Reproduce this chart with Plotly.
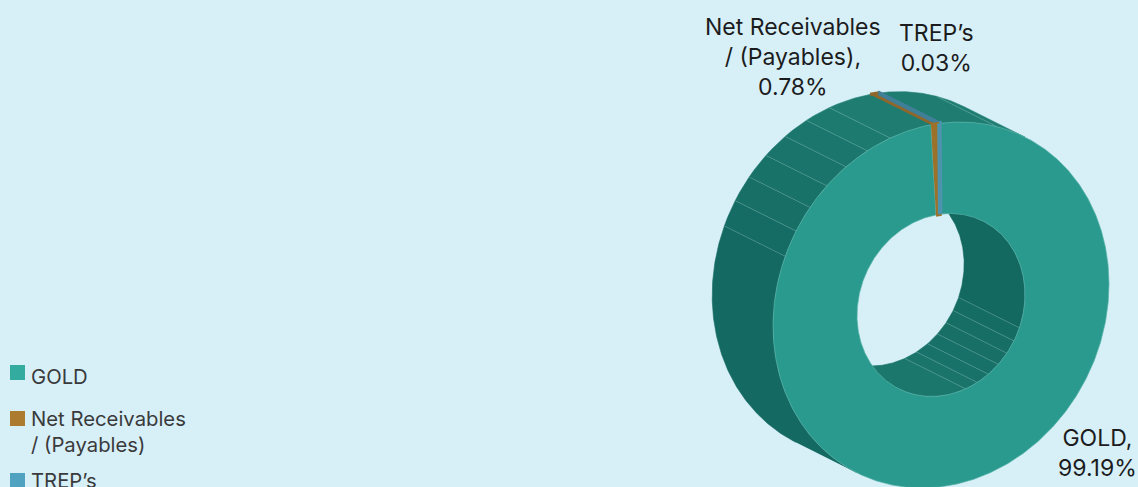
import numpy as np
import plotly.graph_objects as go

categories = ["GOLD", "Net Receivables / (Payables)", "TREP’s"]
values = [99.19, 0.78, 0.03]

# style
BG = "#d7f0f7"
legend_colors = ["#33ab9e", "#ad7b30", "#4fa3c0"]
face_colors = ["#2a9a8f", "#9c722b", "#4d93ad"]
wall_special = [None, "#8f672c", "#3f7f98"]
slice_stroke = [0, 3.5, 4.5]
FONT = "Inter"

# projection of the 3D ring onto the page
CX, CY = 941.0, 305.0
A, B = 187.7, 162.7          # outer semi-axes
HOLE = 0.5
M = np.array([1.0, -2.0]) / np.sqrt(5)
N = np.array([2.0, 1.0]) / np.sqrt(5)
DEPTH = 68.0
START = -30.5                # page angle of the first slice


def ring(s_deg, scale=1.0, back=False):
    s = np.radians(np.asarray(s_deg, dtype=float))
    pts = np.outer(A * scale * np.cos(s), M) + np.outer(B * scale * np.sin(s), N)
    pts = pts + np.array([CX, CY])
    if back:
        pts = pts - DEPTH * N
    return pts


def arc(s0, s1, step=0.5):
    n = max(2, int(abs(s1 - s0) / step) + 1)
    return np.linspace(s0, s1, n)


def mix(c0, c1, f):
    f = min(max(f, 0.0), 1.0)
    a = [int(c0[i:i + 2], 16) for i in (1, 3, 5)]
    b = [int(c1[i:i + 2], 16) for i in (1, 3, 5)]
    return "#%02x%02x%02x" % tuple(round(x + (y - x) * f) for x, y in zip(a, b))


fig = go.Figure()


def poly(pts, color, lw=0.0, lc=None):
    fig.add_trace(go.Scatter(
        x=pts[:, 0], y=pts[:, 1], mode="lines", fill="toself", fillcolor=color,
        line=dict(color=lc or color, width=lw), hoverinfo="skip", showlegend=False))


def band(s0, s1, scale, color, lw=0.6):
    ss = arc(s0, s1)
    pts = np.vstack([ring(ss, scale), ring(ss[::-1], scale, back=True)])
    poly(pts, color, lw=lw)


def seam(s, scale):
    pts = np.vstack([ring([s], scale), ring([s], scale, back=True)])
    fig.add_trace(go.Scatter(
        x=pts[:, 0], y=pts[:, 1], mode="lines",
        line=dict(color="rgba(190,235,230,0.28)", width=0.7),
        hoverinfo="skip", showlegend=False))


# slice limits in page angle
cum = np.cumsum([0] + values)
limits = [(START + 360 * cum[i] / cum[-1], START + 360 * cum[i + 1] / cum[-1]) for i in range(len(values))]

# ---------- inner wall, seen through the hole
inner_seams = [81 + 8.67 * k for k in range(7)]
edges = [0] + inner_seams + [180]
for i in range(len(edges) - 1):
    col = mix("#136860", "#1c776d", (edges[i] - 60) / 80)
    band(edges[i], edges[i + 1], HOLE, col)
for s in inner_seams:
    seam(s, HOLE)

# ---------- outer wall, upper left
outer_seams = [262 + 8.4 * k for k in range(7)] + [349.5]
edges = [180] + outer_seams + [360]
for i in range(len(edges) - 1):
    col = mix("#146a62", "#1f7d72", (edges[i] - 255) / 60)
    band(edges[i], edges[i + 1], 1.0, col)
for s in outer_seams:
    seam(s, 1.0)
for i in (1, 2):
    ss = arc(limits[i][0] + 360, limits[i][1] + 360, 0.02)
    pts = np.vstack([ring(ss), ring(ss[::-1], back=True)])
    poly(pts, wall_special[i], lw=slice_stroke[i])

# ---------- front faces
for i in range(3):
    s0, s1 = limits[i]
    step = 0.5 if i == 0 else 0.02
    ss = arc(s0, s1, step)
    pts = np.vstack([ring(ss), ring(ss[::-1], HOLE)])
    if i == 0:
        poly(pts, face_colors[i], lw=0.7, lc="#56b2a8")
    else:
        poly(pts, face_colors[i], lw=slice_stroke[i])

# ---------- legend
legend_y = [372.5, 418.5, 480.5]
legend_text = ["GOLD", "Net Receivables<br>/ (Payables)", "TREP’s"]
text_top = [363, 405, 467]
fig.add_trace(go.Scatter(
    x=[17.5] * 3, y=legend_y, mode="markers",
    marker=dict(symbol="square", size=15, color=legend_colors, line=dict(width=0)),
    hoverinfo="skip", showlegend=False))

annotations = []
for t, y in zip(legend_text, text_top):
    annotations.append(dict(x=30, y=y, xref="x", yref="y", xanchor="left", yanchor="top",
                            text=t, showarrow=False, align="left", borderpad=0,
                            font=dict(family=FONT, size=20.3, color="#3a3a3c")))

# ---------- data labels
label_text = ["GOLD,<br>%.2f%%" % values[0],
              "Net Receivables<br>/ (Payables),<br>%.2f%%" % values[1],
              "TREP’s<br>%.2f%%" % values[2]]
label_x = [1097, 793, 936]
label_top = [423, 12, 18]
for t, x, y in zip(label_text, label_x, label_top):
    annotations.append(dict(x=x, y=y, xref="x", yref="y", xanchor="center", yanchor="top",
                            text=t, showarrow=False, align="center", borderpad=0,
                            font=dict(family=FONT, size=23, color="#1c1c1e")))

fig.update_layout(
    width=1138, height=487, margin=dict(l=0, r=0, t=0, b=0),
    paper_bgcolor=BG, plot_bgcolor=BG, showlegend=False,
    xaxis=dict(range=[0, 1138], visible=False, fixedrange=True),
    yaxis=dict(range=[487, 0], visible=False, fixedrange=True),
    annotations=annotations)

fig.write_html("out.html", config={"displayModeBar": False},
               post_script="document.body.style.margin='0';document.body.style.overflow='hidden';")
